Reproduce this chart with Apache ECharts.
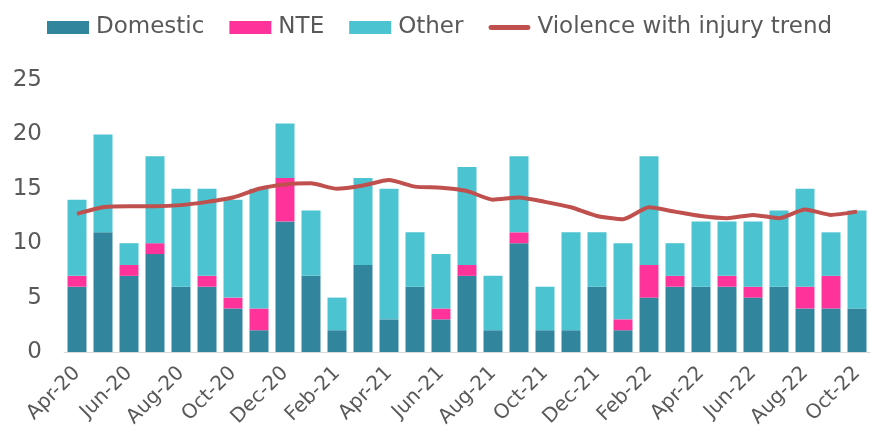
<!DOCTYPE html>
<html><head><meta charset="utf-8">
<script src="https://cdn.jsdelivr.net/npm/echarts@6/dist/echarts.min.js"></script>
<style>html,body{margin:0;padding:0;background:#fff}#c{width:872px;height:447px}</style>
</head><body><div id="c"></div>
<script>
const categories = ['Apr-20','May-20','Jun-20','Jul-20','Aug-20','Sep-20','Oct-20','Nov-20','Dec-20','Jan-21','Feb-21','Mar-21','Apr-21','May-21','Jun-21','Jul-21','Aug-21','Sep-21','Oct-21','Nov-21','Dec-21','Jan-22','Feb-22','Mar-22','Apr-22','May-22','Jun-22','Jul-22','Aug-22','Sep-22','Oct-22'];
const domestic = [6,11,7,9,6,6,4,2,12,7,2,8,3,6,3,7,2,10,2,2,6,2,5,6,6,6,5,6,4,4,4];
const nte      = [1,0,1,1,0,1,1,2,4,0,0,0,0,0,1,1,0,1,0,0,0,1,3,1,0,1,1,0,2,3,0];
const other    = [7,9,2,8,9,8,9,11,5,6,3,8,12,5,5,9,5,7,4,9,5,7,10,3,6,5,6,7,9,4,9];
const trend    = [12.7,13.3,13.4,13.4,13.5,13.8,14.2,15.0,15.4,15.5,15.0,15.3,15.8,15.2,15.1,14.8,14.0,14.2,13.8,13.3,12.5,12.2,13.3,12.9,12.5,12.3,12.6,12.3,13.1,12.6,12.9];

const chart = echarts.init(document.getElementById('c'));
const font = 'DejaVu Sans';
chart.setOption({
  animation: false,
  textStyle: {fontFamily: font},
  legend: {
    top: 16, left: 47, itemWidth: 42, itemHeight: 13, itemGap: 25, padding: 0,
    textStyle: {fontSize: 23, color: '#595959', fontFamily: font, padding: [0,0,0,2]},
    data: [
      {name:'Domestic', icon:'rect'},
      {name:'NTE', icon:'rect'},
      {name:'Other', icon:'rect'},
      {name:'Violence with injury trend', icon:'path://M2,0 L40,0 A2,2 0 0 1 40,5 L2,5 A2,2 0 0 1 2,0 Z'}
    ]
  },
  grid: {left: 64, right: 2, top: 80, bottom: 95},
  xAxis: {
    type: 'category', data: categories,
    axisLine: {lineStyle: {color: '#d9d9d9'}},
    axisTick: {show: false},
    axisLabel: {interval: 1, rotate: 45, fontSize: 20, color: '#595959', margin: 18}
  },
  yAxis: {
    type: 'value', min: 0, max: 25, interval: 5,
    splitLine: {show: false},
    axisLine: {show: false}, axisTick: {show: false},
    axisLabel: {fontSize: 23, color: '#595959', margin: 22}
  },
  series: [
    {name:'Domestic', type:'bar', stack:'a', data: domestic, barWidth: '73%', itemStyle:{color:'#31859c'}},
    {name:'NTE', type:'bar', stack:'a', data: nte, itemStyle:{color:'#ff339a'}},
    {name:'Other', type:'bar', stack:'a', data: other, itemStyle:{color:'#4bc3d1'}},
    {name:'Violence with injury trend', type:'line', data: trend, symbol:'none', smooth: 0.2,
     lineStyle:{color:'#c0504d', width:4}, itemStyle:{color:'#c0504d'}}
  ]
});
</script></body></html>
